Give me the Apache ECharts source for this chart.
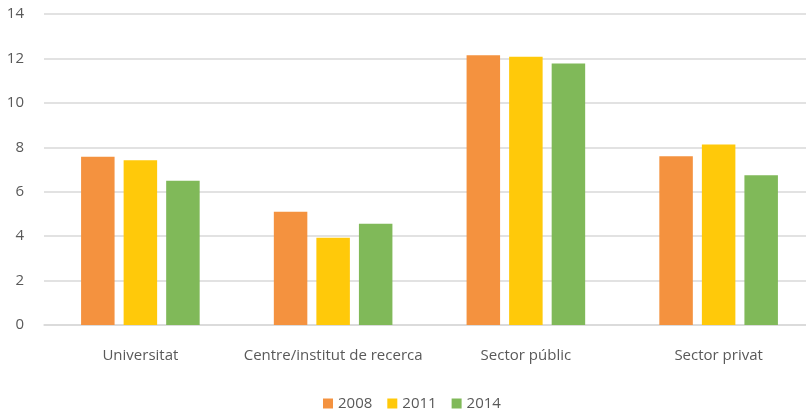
<!DOCTYPE html>
<html><head><meta charset="utf-8">
<script src="https://cdn.jsdelivr.net/npm/echarts@6/dist/echarts.min.js"></script>
<style>html,body{margin:0;padding:0;background:#fff}#c{width:806px;height:413px}</style>
</head><body><div id="c"></div>
<script>
const categories = ["Universitat", "Centre/institut de recerca", "Sector públic", "Sector privat"];
const years = ["2008", "2011", "2014"];
const s2008 = [7.57, 5.10, 12.14, 7.60];
const s2011 = [7.42, 3.93, 12.08, 8.13];
const s2014 = [6.49, 4.56, 11.77, 6.74];
const yTicks = [0, 2, 4, 6, 8, 10, 12, 14];
const colors = ["#F4923F", "#FFC90A", "#80B959"];

const chart = echarts.init(document.getElementById('c'));
const font = "'Open Sans', 'Noto Sans', sans-serif";
const mk = (name, data, i) => ({
  name, type: 'bar', data, barWidth: 33.5, barGap: '27%',
  itemStyle: { color: colors[i] }
});
chart.setOption({
  animation: false,
  textStyle: { fontFamily: font },
  grid: { left: 44, width: 771, top: 14, height: 311, outerBoundsMode: 'none', containLabel: false },
  legend: {
    left: 318, bottom: -3, itemWidth: 10, itemHeight: 10, itemGap: 15, icon: 'rect',
    textStyle: { fontFamily: font, fontSize: 15, color: '#595959' },
    data: years
  },
  xAxis: {
    type: 'category', data: categories,
    axisLine: { lineStyle: { color: '#d9d9d9', width: 1.5 } },
    axisTick: { show: false },
    axisLabel: { interval: 0, fontFamily: font, fontSize: 15, color: '#595959', margin: 23 }
  },
  yAxis: {
    type: 'value', min: yTicks[0], max: yTicks[yTicks.length - 1], interval: 2,
    axisLine: { show: false }, axisTick: { show: false },
    splitLine: { lineStyle: { color: '#d9d9d9', width: 1.5 } },
    axisLabel: { fontFamily: font, fontSize: 15, color: '#595959', margin: 20 }
  },
  series: [mk(years[0], s2008, 0), mk(years[1], s2011, 1), mk(years[2], s2014, 2)]
});
</script></body></html>
